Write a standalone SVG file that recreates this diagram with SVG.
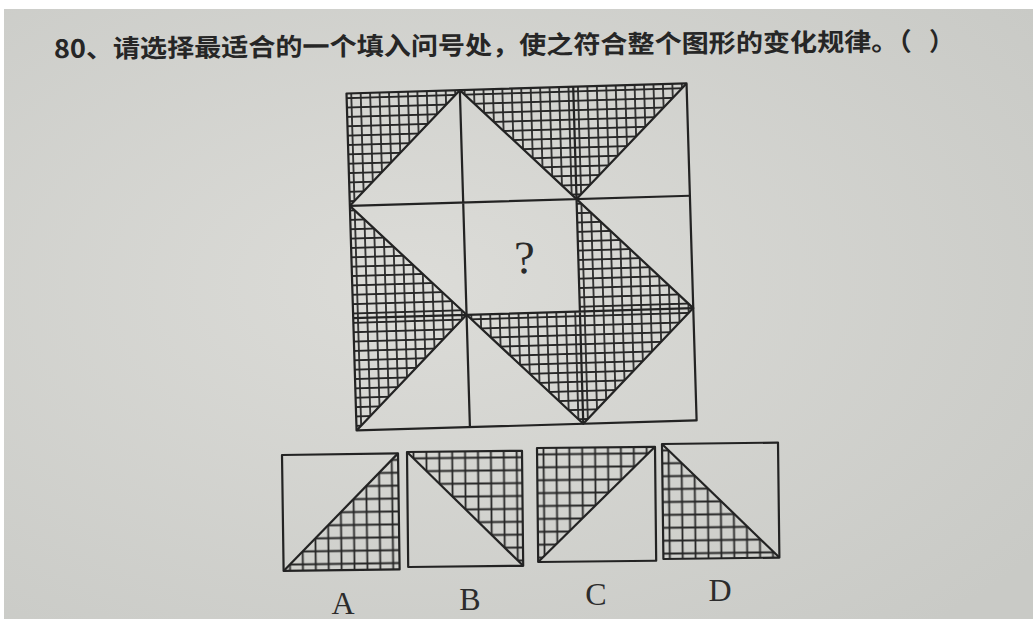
<svg xmlns="http://www.w3.org/2000/svg" width="1033" height="619" viewBox="0 0 1033 619">
<defs>
<radialGradient id="paper" cx="0.4" cy="0.45" r="0.75">
<stop offset="0" stop-color="#dcdcd8"/>
<stop offset="1" stop-color="#c9cac6"/>
</radialGradient>
<pattern id="hatchG" patternUnits="userSpaceOnUse" width="9.333" height="9.333">
<path d="M4.667 0V9.333M0 4.667H9.333" stroke="#262626" stroke-width="1.7" fill="none"/>
</pattern>
<pattern id="hatchO" patternUnits="userSpaceOnUse" width="12.9" height="12.9">
<path d="M6.45 0V12.9M0 6.45H12.9" stroke="#262626" stroke-width="1.8" fill="none"/>
</pattern>
<style>
.ln{fill:none;stroke:#232323;stroke-width:2.2;stroke-linejoin:round}
.sh{fill:url(#hatchG);stroke:none}
.sho{fill:url(#hatchO);stroke:none}
.lbl{font-family:"Liberation Serif",serif;font-size:32px;fill:#2c2c2c;text-anchor:middle}
.title{font-family:"Noto Sans CJK SC","Noto Sans",sans-serif;font-size:25px;font-weight:bold;fill:#262626}
</style>
</defs>
<rect width="1033" height="619" fill="#ffffff"/>
<rect x="4" y="9" width="1029" height="610" fill="url(#paper)"/>

<g id="title">
<text class="title" x="54" y="58" transform="rotate(-0.5 54 58)" textLength="858" lengthAdjust="spacingAndGlyphs">80、请选择最适合的一个填入问号处，使之符合整个图形的变化规律。（</text>
<text class="title" x="929" y="51">）</text>
</g>

<g id="grid" transform="matrix(1.012,-0.03,0.03,1.003,346.5,93.5)">
<g id="shading">
<path class="sh" d="M0 0H112L0 112Z"/>
<path class="sh" d="M112 0H336L224 112Z"/>
<path class="sh" d="M0 112L112 224L0 336Z"/>
<path class="sh" d="M112 224H224V112L336 224L224 336Z"/>
</g>
<g id="lines">
<rect class="ln" x="0" y="0" width="336" height="336"/>
<path class="ln" d="M112 0V336M224 0V336M0 112H336M0 224H336"/>
<path class="ln" d="M0 112L112 0L224 112L336 0"/>
<path class="ln" d="M0 112L112 224L0 336"/>
<path class="ln" d="M224 112L336 224L224 336L112 224"/>
</g>
<text id="qmark" x="171" y="184" font-family="Liberation Serif, serif" font-size="46" fill="#2a2a2a" text-anchor="middle">?</text>
</g>

<g id="optA" transform="translate(282 455) rotate(-0.8)">
<path class="sho" d="M0 116L116 0V116Z"/>
<rect class="ln" x="0" y="0" width="116" height="116"/>
<path class="ln" d="M0 116L116 0"/>
</g>
<g id="optB" transform="translate(407 452) rotate(-0.6)">
<path class="sho" d="M0 0H115V115Z"/>
<rect class="ln" x="0" y="0" width="115" height="115"/>
<path class="ln" d="M0 0L115 115"/>
</g>
<g id="optC" transform="translate(537 448) rotate(-0.6)">
<path class="sho" d="M0 0H118L0 114Z"/>
<rect class="ln" x="0" y="0" width="118" height="114"/>
<path class="ln" d="M0 114L118 0"/>
</g>
<g id="optD" transform="translate(662 444) rotate(-0.7)">
<path class="sho" d="M0 0L116 115H0Z"/>
<rect class="ln" x="0" y="0" width="116" height="115"/>
<path class="ln" d="M0 0L116 115"/>
</g>

<g id="labels">
<text class="lbl" x="343" y="614">A</text>
<text class="lbl" x="470" y="610">B</text>
<text class="lbl" x="596" y="605">C</text>
<text class="lbl" x="720" y="601">D</text>
</g>
</svg>
